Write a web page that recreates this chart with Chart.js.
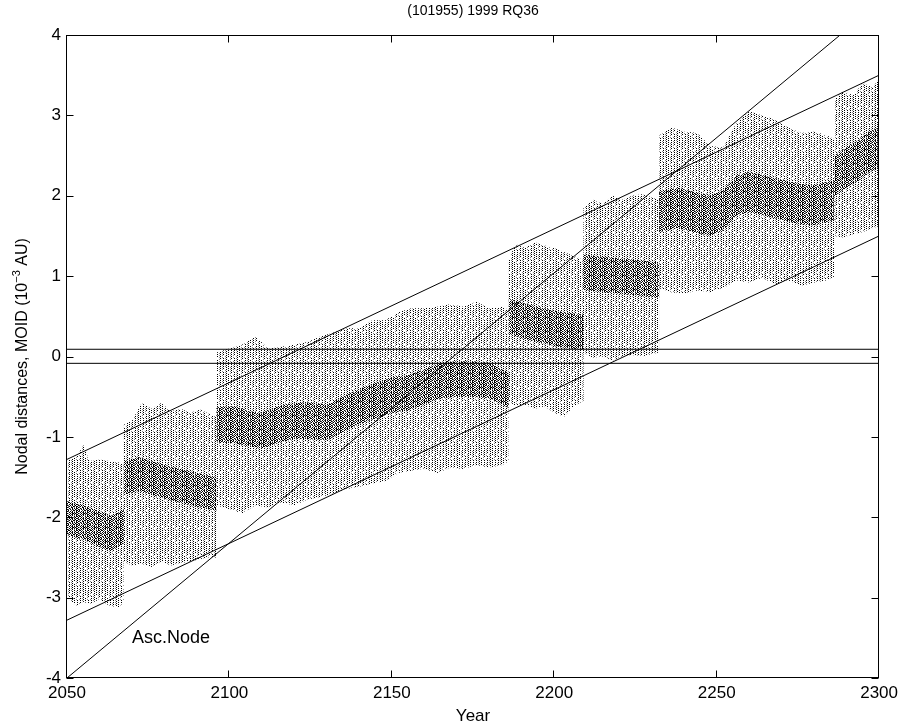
<!DOCTYPE html>
<html>
<head>
<meta charset="utf-8">
<script src="https://cdn.jsdelivr.net/npm/chart.js@4.4.1/dist/chart.umd.min.js"></script>
<style>
  html, body { margin: 0; padding: 0; background: #fff; }
  #wrap { width: 903px; height: 727px; }
</style>
</head>
<body>
<div id="wrap"><canvas id="moidChart" width="903" height="727"></canvas></div>
<script>
// Beschriftungen
const chartTitle = '(101955) 1999 RQ36';
const xTitle = 'Year';
const yTitleParts = ['Nodal distances, MOID (10', '\u22123', ' AU)'];
const nodeLabel = 'Asc.Node';
const nodeLabelAt = [2070, -3.5];

const xTicks = [2050, 2100, 2150, 2200, 2250, 2300];
const yTicks = [-4, -3, -2, -1, 0, 1, 2, 3, 4];

// Punktwolke: Jahr, obere und untere Kante
const cloudYears = [
  2050, 2053, 2055, 2057, 2060, 2063, 2066, 2067.5,
  2067.5, 2070, 2073, 2076, 2079, 2082, 2085, 2088, 2091, 2094, 2096,
  2096, 2100, 2104, 2108, 2112, 2116, 2120, 2124, 2128, 2132, 2136, 2140, 2144, 2148, 2152, 2156, 2160, 2164, 2168, 2172, 2176, 2180, 2184, 2186,
  2186, 2188, 2191, 2194, 2197, 2200, 2203, 2206, 2209,
  2209, 2212, 2215, 2218, 2221, 2224, 2227, 2230, 2232.3,
  2232.3, 2236, 2240, 2244, 2248, 2252, 2256, 2260, 2264, 2268, 2272, 2276, 2280, 2284, 2286.3,
  2286.3, 2289, 2292, 2295, 2298, 2300
];
const cloudTop = [
  -1.30, -1.25, -1.10, -1.30, -1.28, -1.30, -1.32, -1.35,
  -0.85, -0.80, -0.58, -0.65, -0.58, -0.68, -0.65, -0.70, -0.66, -0.72, -0.75,
  0.05, 0.10, 0.15, 0.25, 0.10, 0.12, 0.15, 0.18, 0.25, 0.30, 0.35, 0.35, 0.45, 0.45, 0.55, 0.60, 0.60, 0.62, 0.65, 0.62, 0.68, 0.60, 0.62, 0.58,
  1.20, 1.40, 1.35, 1.42, 1.38, 1.35, 1.30, 1.25, 1.20,
  1.85, 1.95, 1.90, 2.00, 1.95, 2.00, 2.02, 1.98, 1.95,
  2.75, 2.85, 2.80, 2.78, 2.62, 2.60, 2.90, 3.05, 3.00, 2.95, 2.85, 2.78, 2.80, 2.75, 2.70,
  3.20, 3.30, 3.25, 3.40, 3.35, 3.45
];
const cloudBottom = [
  -3.00, -3.10, -3.05, -3.08, -3.02, -3.10, -3.12, -3.05,
  -2.55, -2.60, -2.58, -2.62, -2.55, -2.60, -2.57, -2.55, -2.52, -2.50, -2.50,
  -1.85, -1.90, -1.95, -1.85, -1.88, -1.82, -1.85, -1.78, -1.75, -1.70, -1.65, -1.62, -1.58, -1.55, -1.45, -1.42, -1.40, -1.45, -1.38, -1.40, -1.35, -1.38, -1.35, -1.30,
  -0.55, -0.62, -0.60, -0.65, -0.62, -0.70, -0.75, -0.62, -0.55,
  0.05, -0.02, 0.00, -0.05, 0.00, 0.02, 0.00, 0.03, 0.05,
  0.85, 0.80, 0.78, 0.82, 0.80, 0.85, 0.95, 0.92, 0.98, 0.90, 0.95, 0.88, 0.92, 0.95, 1.00,
  1.50, 1.48, 1.52, 1.55, 1.60, 1.62
];

// dichter Kern der Wolke
const coreYears = [
  2050, 2055, 2060, 2064, 2067.5,
  2067.5, 2072, 2076, 2080, 2085, 2090, 2096,
  2096, 2102, 2106, 2110, 2115, 2120, 2125, 2130, 2135, 2140, 2145, 2150, 2155, 2160, 2165, 2170, 2175, 2180, 2186,
  2186, 2190, 2195, 2200, 2205, 2209,
  2209, 2215, 2220, 2226, 2232.3,
  2232.3, 2238, 2243, 2248, 2252, 2256, 2260, 2265, 2270, 2275, 2280, 2286.3,
  2286.3, 2290, 2294, 2297, 2300
];
const coreTop = [
  -1.80, -1.85, -1.93, -1.98, -1.90,
  -1.30, -1.25, -1.30, -1.35, -1.40, -1.45, -1.50,
  -0.63, -0.62, -0.68, -0.70, -0.62, -0.58, -0.57, -0.60, -0.50, -0.40, -0.33, -0.26, -0.23, -0.16, -0.08, -0.06, -0.06, -0.08, -0.20,
  0.72, 0.67, 0.62, 0.57, 0.54, 0.52,
  1.27, 1.24, 1.22, 1.20, 1.17,
  2.05, 2.10, 2.05, 2.00, 2.07, 2.25, 2.30, 2.25, 2.20, 2.15, 2.13, 2.20,
  2.50, 2.60, 2.70, 2.80, 2.85
];
const coreBottom = [
  -2.22, -2.28, -2.37, -2.42, -2.32,
  -1.72, -1.67, -1.72, -1.77, -1.82, -1.87, -1.92,
  -1.07, -1.08, -1.12, -1.14, -1.08, -1.02, -1.03, -1.04, -0.94, -0.84, -0.77, -0.70, -0.67, -0.60, -0.52, -0.50, -0.50, -0.52, -0.64,
  0.28, 0.23, 0.18, 0.13, 0.10, 0.08,
  0.83, 0.80, 0.78, 0.76, 0.73,
  1.55, 1.60, 1.55, 1.50, 1.57, 1.75, 1.80, 1.75, 1.70, 1.65, 1.63, 1.70,
  2.00, 2.10, 2.20, 2.30, 2.35
];

// Geraden
const ascNodeYears = [2050, 2288];
const ascNodeValues = [-4.0, 4.0];
const upperYears = [2050, 2300];
const upperValues = [-1.28, 3.50];
const lowerYears = [2050, 2300];
const lowerValues = [-3.28, 1.50];
const limitYears = [2050, 2300];
const limitHigh = [0.09, 0.09];
const limitLow = [-0.085, -0.085];

const FONT = '"Liberation Sans", Arial, Helvetica, sans-serif';

function pts(xs, ys) {
  return xs.map((x, i) => ({ x: x, y: ys[i] }));
}

// Punktmuster für die Wolke (senkrechte gepunktete Striche)
function makeTexture(ctx, rows) {
  const c = document.createElement('canvas');
  c.width = rows[0].length;
  c.height = rows.length;
  const g = c.getContext('2d');
  rows.forEach((r, j) => {
    for (let i = 0; i < r.length; i++) {
      if (r[i] === '#') { g.fillStyle = '#000'; g.fillRect(i, j, 1, 1); }
      if (r[i] === '+') { g.fillStyle = 'rgba(0,0,0,0.45)'; g.fillRect(i, j, 1, 1); }
    }
  });
  return ctx.createPattern(c, 'repeat');
}

const canvas = document.getElementById('moidChart');
const ctx = canvas.getContext('2d');

const lightDots = makeTexture(ctx, [
  '#..#.+..#..',
  '..+...#....',
  '#..#.+..#..',
  '..+...#...+',
  '#..#....#..',
  '..+...#...+',
  '#....+..#..',
  '..+...#...+',
  '#..#.+.....',
  '......#...+',
  '...#.+..#..',
  '..+...#...+',
  '#..#.+..#..',
  '......#....'
]);
const denseDots = makeTexture(ctx, [
  '#+.#.+#.#.#',
  '.#+.#.#.+#.',
  '#.+#.+.##.#',
  '.#+..##.+.#',
  '#..#+.#.#.#',
  '.#+.#.#+.#.',
  '#.#..+.##.#',
  '.#+.#.#.+.#',
  '#..#.+#.#.#',
  '.#+.#..#+#.',
  '#..#.+#.#.#',
  '.#+.#.#.+.#',
  '#.##.+..#.#',
  '.#..#.#.+#.'
]);

const lineStyle = { borderColor: '#000', borderWidth: 1, pointRadius: 0, fill: false, tension: 0 };
const edgeStyle = { borderColor: 'rgba(0,0,0,0)', borderWidth: 0, pointRadius: 0, tension: 0 };

// Rahmen und Striche nach innen (wie MATLAB)
const boxPlugin = {
  id: 'box',
  afterDatasetsDraw(chart) {
    const { ctx, chartArea: a, scales: { x, y } } = chart;
    const L = Math.round(a.left) - 0.5, R = Math.round(a.right) - 0.5;
    const T = Math.round(a.top) + 0.5, B = Math.round(a.bottom) - 0.5;
    ctx.save();
    ctx.strokeStyle = '#000';
    ctx.lineWidth = 1;
    ctx.strokeRect(L, T, R - L, B - T);
    ctx.beginPath();
    xTicks.forEach(v => {
      const px = Math.round(x.getPixelForValue(v)) - 0.5;
      ctx.moveTo(px, B); ctx.lineTo(px, B - 7);
      ctx.moveTo(px, T); ctx.lineTo(px, T + 7);
    });
    yTicks.forEach(v => {
      const py = Math.round(y.getPixelForValue(v)) + 0.5;
      ctx.moveTo(L, py); ctx.lineTo(L + 7, py);
      ctx.moveTo(R, py); ctx.lineTo(R - 7, py);
    });
    ctx.stroke();
    ctx.restore();
  },
  afterDraw(chart) {
    const { ctx, chartArea: a, scales: { x, y } } = chart;
    ctx.save();
    ctx.fillStyle = '#000';
    ctx.font = '14px ' + FONT;
    ctx.textAlign = 'center';
    ctx.textBaseline = 'middle';
    ctx.fillText(chartTitle, (a.left + a.right) / 2, 11);

    ctx.font = '18px ' + FONT;
    ctx.textAlign = 'left';
    ctx.fillText(nodeLabel, x.getPixelForValue(nodeLabelAt[0]), y.getPixelForValue(nodeLabelAt[1]));

    // y-Beschriftung mit Hochzahl
    ctx.translate(23, (a.top + a.bottom) / 2);
    ctx.rotate(-Math.PI / 2);
    ctx.font = '16px ' + FONT;
    const w1 = ctx.measureText(yTitleParts[0]).width;
    const w3 = ctx.measureText(yTitleParts[2]).width;
    ctx.font = '11px ' + FONT;
    const w2 = ctx.measureText(yTitleParts[1]).width;
    const s = -(w1 + w2 + w3) / 2;
    ctx.font = '16px ' + FONT;
    ctx.fillText(yTitleParts[0], s, 0);
    ctx.fillText(yTitleParts[2], s + w1 + w2, 0);
    ctx.font = '11px ' + FONT;
    ctx.fillText(yTitleParts[1], s + w1, -6);
    ctx.restore();
  }
};

new Chart(ctx, {
  type: 'line',
  data: {
    datasets: [
      { ...edgeStyle, data: pts(cloudYears, cloudBottom), fill: false },
      { ...edgeStyle, data: pts(cloudYears, cloudTop), fill: '-1', backgroundColor: lightDots },
      { ...edgeStyle, data: pts(coreYears, coreBottom), fill: false },
      { ...edgeStyle, data: pts(coreYears, coreTop), fill: '-1', backgroundColor: denseDots },
      { ...lineStyle, data: pts(limitYears, limitHigh) },
      { ...lineStyle, data: pts(limitYears, limitLow) },
      { ...lineStyle, data: pts(upperYears, upperValues) },
      { ...lineStyle, data: pts(lowerYears, lowerValues) },
      { ...lineStyle, data: pts(ascNodeYears, ascNodeValues) }
    ]
  },
  options: {
    responsive: false,
    animation: false,
    devicePixelRatio: 1,
    layout: { padding: { left: 0, right: 21, top: 35, bottom: 0 } },
    plugins: { legend: { display: false }, tooltip: { enabled: false } },
    scales: {
      x: {
        type: 'linear', min: 2050, max: 2300,
        afterBuildTicks: s => { s.ticks = xTicks.map(v => ({ value: v })); },
        afterFit: s => { s.height = 49; },
        grid: { display: false, drawTicks: false },
        border: { display: false },
        ticks: { color: '#000', font: { family: FONT, size: 17 }, padding: 5, maxRotation: 0, autoSkip: false, callback: v => String(v) },
        title: { display: true, text: xTitle, color: '#000', font: { family: FONT, size: 17 }, padding: { top: 0, bottom: 0 } }
      },
      y: {
        type: 'linear', min: -4, max: 4,
        afterBuildTicks: s => { s.ticks = yTicks.map(v => ({ value: v })); },
        afterFit: s => { s.width = 67; },
        grid: { display: false, drawTicks: false },
        border: { display: false },
        ticks: { color: '#000', font: { family: FONT, size: 17 }, padding: 6, callback: v => String(v) }
      }
    }
  },
  plugins: [boxPlugin]
});
</script>
</body>
</html>
